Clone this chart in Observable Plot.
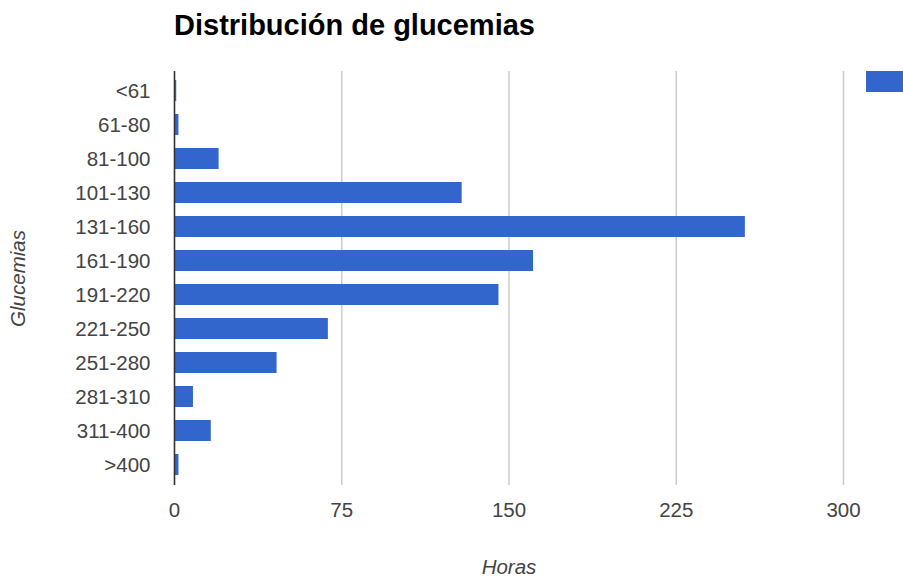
<!DOCTYPE html>
<html>
<head>
<meta charset="utf-8">
<script src="https://cdn.jsdelivr.net/npm/d3@7"></script>
<script src="https://cdn.jsdelivr.net/npm/@observablehq/plot@0.6"></script>
<style>
  html, body { margin: 0; padding: 0; background: #fff; overflow: hidden; width: 903px; height: 579px; }
  body { position: relative; font-family: "Liberation Sans", Arial, sans-serif; }
  #title { height: 50px; line-height: 51px; padding-left: 174px; font-size: 29px; font-weight: bold; color: #000; white-space: nowrap; }
  #legend { position: absolute; left: 866px; top: 71px; width: 60px; height: 21px; background: #3366cc; }
</style>
</head>
<body>
<div id="title">Distribución de glucemias</div>
<div id="chart"></div>
<div id="legend"></div>
<script>
const categories = ["<61", "61-80", "81-100", "101-130", "131-160", "161-190", "191-220", "221-250", "251-280", "281-310", "311-400", ">400"];
const hours = [1, 2, 20, 129, 256, 161, 145.5, 69, 46, 8.5, 16.5, 2];
const xTicks = [0, 75, 150, 225, 300];

const data = categories.map((c, i) => ({glucemia: c, horas: hours[i]}));

const chart = Plot.plot({
  width: 903,
  height: 529,
  marginTop: 21,
  marginBottom: 94,
  marginLeft: 174,
  marginRight: 60,
  style: {fontFamily: '"Liberation Sans", Arial, sans-serif', fontSize: "20.5px", color: "#444", background: "#fff"},
  x: {domain: [0, 300]},
  y: {domain: categories, paddingInner: 0.37, paddingOuter: 0.185},
  marks: [
    Plot.gridX(xTicks, {stroke: "#cccccc", strokeOpacity: 1, strokeWidth: 1.5}),
    Plot.barX(data, {x: "horas", y: "glucemia", fill: "#3366cc"}),
    Plot.ruleX([0], {stroke: "#333", strokeWidth: 1.5}),
    Plot.axisX(xTicks, {tickSize: 0, tickPadding: 17, label: "Horas", labelAnchor: "center", labelArrow: "none", labelOffset: 88}),
    Plot.axisY({tickSize: 0, tickPadding: 24, label: "Glucemias", labelAnchor: "center", labelArrow: "none", labelOffset: 164})
  ]
});
document.getElementById("chart").appendChild(chart);
// italic axis labels
chart.querySelectorAll("g[aria-label='x-axis label'] text, g[aria-label='y-axis label'] text").forEach(t => t.setAttribute("font-style", "italic"));
</script>
</body>
</html>
